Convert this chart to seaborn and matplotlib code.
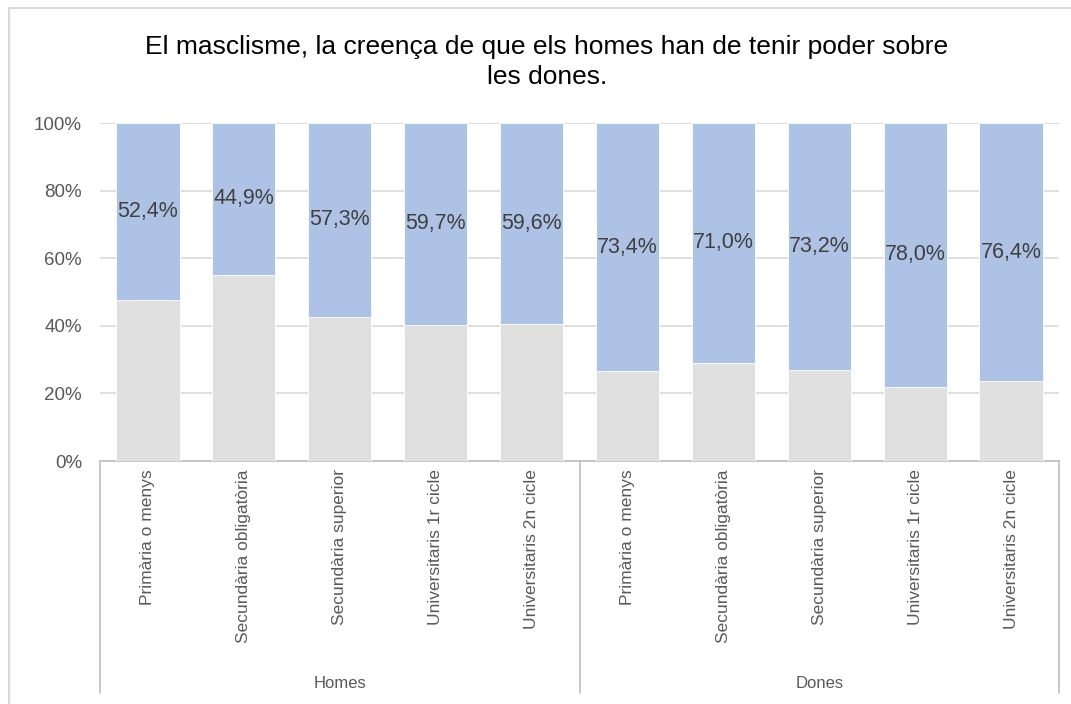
import matplotlib
matplotlib.use("Agg")
import matplotlib.pyplot as plt
import matplotlib.lines as mlines
import seaborn as sns
import pandas as pd

# Education levels, repeated for each sex group
levels = ["Primària o menys", "Secundària obligatòria", "Secundària superior",
          "Universitaris 1r cicle", "Universitaris 2n cicle"]
groups = ["Homes", "Dones"]
# Share of people in disagreement (blue segment), per group and level
desacord = [52.4, 44.9, 57.3, 59.7, 59.6,
            73.4, 71.0, 73.2, 78.0, 76.4]

title = "El masclisme, la creença de que els homes han de tenir poder sobre\nles dones."

sns.set_theme(style="white")
plt.rcParams["font.family"] = ["Liberation Sans", "DejaVu Sans"]

BLUE = "#AEC2E6"
GREY = "#E0E0E0"
TXT = "#595959"
LBL = "#404040"

rows = []
for gi, g in enumerate(groups):
    for li, lv in enumerate(levels):
        v = desacord[gi * len(levels) + li]
        rows.append({"key": f"{g}|{lv}", "grup": g, "nivell": lv,
                     "desacord": v / 100.0, "resta": (100.0 - v) / 100.0,
                     "total": 1.0})
df = pd.DataFrame(rows)

W, H = 1071, 704
fig = plt.figure(figsize=(W / 100, H / 100), dpi=100)
ax = fig.add_axes([100 / W, 1 - 461 / H, (1059 - 100) / W, (461 - 123) / H])

# full-height blue bar, then the grey remainder stacked from the bottom
sns.barplot(data=df, x="key", y="total", color=BLUE, width=0.66,
            edgecolor="white", linewidth=0.6, saturation=1, ax=ax, zorder=2)
sns.barplot(data=df, x="key", y="resta", color=GREY, width=0.66,
            edgecolor="white", linewidth=0.6, saturation=1, ax=ax, zorder=3)

ax.set_ylim(0, 1.0)
ax.set_xlim(-0.5, len(df) - 0.5)
ax.set_yticks([0, 0.2, 0.4, 0.6, 0.8, 1.0])
ax.set_yticklabels(["0%", "20%", "40%", "60%", "80%", "100%"],
                   fontsize=13.5, color=TXT)
ax.yaxis.grid(True, color="#D9D9D9", linewidth=1.2, zorder=0)
ax.set_axisbelow(True)
ax.tick_params(axis="y", length=0, pad=13)
ax.tick_params(axis="x", length=0)
for s in ax.spines.values():
    s.set_visible(False)
ax.spines["bottom"].set_visible(True)
ax.spines["bottom"].set_color("#BFBFBF")
ax.spines["bottom"].set_linewidth(1.2)
ax.set_xlabel("")
ax.set_ylabel("")

# rotated level labels under each bar
ax.set_xticks(range(len(df)))
ax.set_xticklabels(df["nivell"], rotation=90, fontsize=12.5, color=TXT,
                   va="top", ha="center")
ax.tick_params(axis="x", pad=6)

# value labels centred on the blue segment
for i, r in df.iterrows():
    ax.text(i, r["resta"] + r["desacord"] / 2,
            f"{r['desacord'] * 100:.1f}%".replace(".", ","),
            ha="center", va="center", fontsize=15.5, color=LBL, zorder=5)

# group labels and separators below the axis
n = len(levels)
trans = ax.get_xaxis_transform()
for gi, g in enumerate(groups):
    ax.text(gi * n + (n - 1) / 2, -(683 - 461) / (461 - 123), g,
            transform=trans, ha="center", va="center", fontsize=12,
            color=TXT, clip_on=False)
for xb in [-0.5, n - 0.5, 2 * n - 0.5]:
    ax.add_line(mlines.Line2D([xb, xb], [0, -(693 - 461) / (461 - 123)],
                              transform=trans, color="#BFBFBF", lw=1.2,
                              clip_on=False))

fig.text(547 / W, 1 - 62 / H, title, ha="center", va="center",
         fontsize=19, color="black", linespacing=1.32)

# light frame around the chart area
fig.add_artist(mlines.Line2D([9 / W, 9 / W], [0, 1 - 8 / H],
                             transform=fig.transFigure, color="#D9D9D9", lw=1.5))
fig.add_artist(mlines.Line2D([9 / W, 1], [1 - 8 / H, 1 - 8 / H],
                             transform=fig.transFigure, color="#D9D9D9", lw=1.5))

fig.savefig("out.png", dpi=100, facecolor="white")
